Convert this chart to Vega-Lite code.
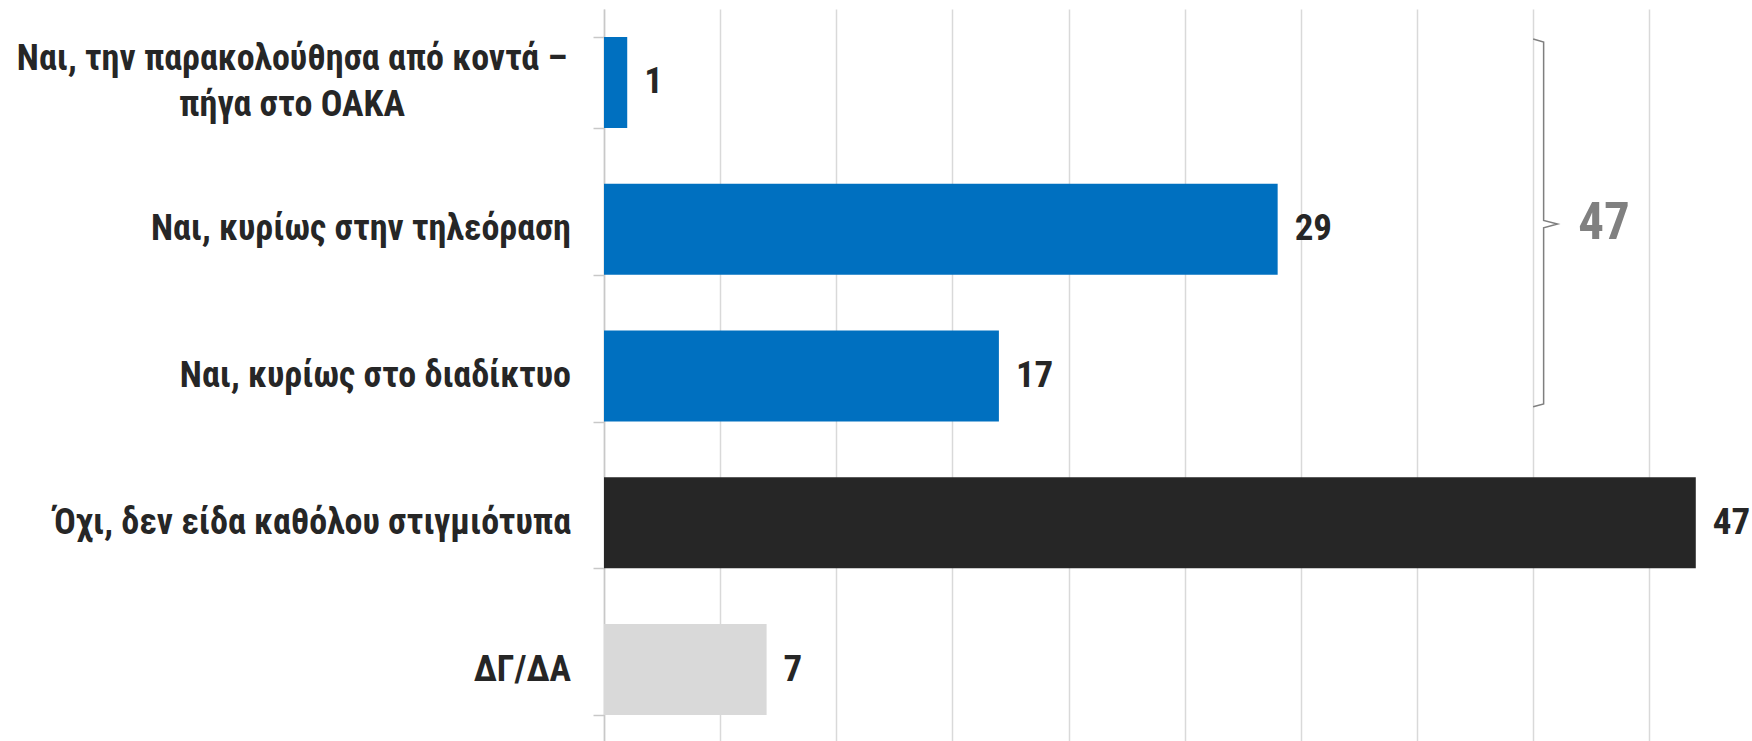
{
  "$schema": "https://vega.github.io/schema/vega-lite/v6.json",
  "width": 1148,
  "height": 734,
  "autosize": {"type": "none"},
  "padding": {"left": 604, "top": 9, "right": 0, "bottom": 0},
  "background": "white",
  "config": {"view": {"stroke": null}, "font": "Roboto Condensed"},
  "datasets": {
    "bars": [
      {"cat": "Ναι, την παρακολούθησα από κοντά –|πήγα στο ΟΑΚΑ", "value": 1, "group": "yes"},
      {"cat": "Ναι, κυρίως στην τηλεόραση", "value": 29, "group": "yes"},
      {"cat": "Ναι, κυρίως στο διαδίκτυο", "value": 17, "group": "yes"},
      {"cat": "Όχι, δεν είδα καθόλου στιγμιότυπα", "value": 47, "group": "no"},
      {"cat": "ΔΓ/ΔΑ", "value": 7, "group": "dk"}
    ],
    "brace": [
      {"x": 40.0, "y": 0.205, "o": 1},
      {"x": 40.45, "y": 0.225, "o": 2},
      {"x": 40.45, "y": 1.44, "o": 3},
      {"x": 41.05, "y": 1.465, "o": 4},
      {"x": 40.45, "y": 1.49, "o": 5},
      {"x": 40.45, "y": 2.69, "o": 6},
      {"x": 40.0, "y": 2.71, "o": 7}
    ],
    "total": [{"x": 43.05, "y": 1.465, "label": "47"}]
  },
  "layer": [
    {
      "data": {"name": "bars"},
      "encoding": {
        "y": {
          "field": "cat",
          "type": "nominal",
          "sort": null,
          "scale": {
            "domain": [
              "Ναι, την παρακολούθησα από κοντά –|πήγα στο ΟΑΚΑ",
              "Ναι, κυρίως στην τηλεόραση",
              "Ναι, κυρίως στο διαδίκτυο",
              "Όχι, δεν είδα καθόλου στιγμιότυπα",
              "ΔΓ/ΔΑ"
            ],
            "paddingInner": 0.38,
            "paddingOuter": 0.19
          },
          "axis": {
            "title": null,
            "tickBand": "extent",
            "tickSize": 11,
            "tickColor": "#C8C8C8",
            "tickWidth": 1.5,
            "domainColor": "#C8C8C8",
            "domainWidth": 1.5,
            "labels": false
          }
        },
        "x": {
          "field": "value",
          "type": "quantitative",
          "scale": {"domain": [0, 49.42], "nice": false},
          "axis": {
            "values": [0, 5, 10, 15, 20, 25, 30, 35, 40, 45],
            "grid": true,
            "gridColor": "#D9D9D9",
            "gridWidth": 1.5,
            "labels": false,
            "ticks": false,
            "domain": false,
            "title": null
          }
        }
      },
      "layer": [
        {
          "mark": {"type": "bar"},
          "encoding": {
            "color": {
              "field": "group",
              "type": "nominal",
              "scale": {"domain": ["yes", "no", "dk"], "range": ["#0070C0", "#262626", "#D9D9D9"]},
              "legend": null
            }
          }
        },
        {
          "mark": {"type": "text", "align": "left", "baseline": "middle", "dx": 17, "font": "Roboto Condensed", "fontSize": 37, "fontWeight": "bold", "color": "#262626"},
          "encoding": {"text": {"field": "value", "type": "quantitative"}}
        },
        {
          "transform": [{"filter": "indexof(datum.cat, '|') < 0"}],
          "mark": {"type": "text", "align": "right", "baseline": "middle", "dx": -33, "font": "Roboto Condensed", "fontSize": 36, "fontWeight": "bold", "color": "#262626"},
          "encoding": {
            "x": {"datum": 0},
            "text": {"field": "cat", "type": "nominal"}
          }
        },
        {
          "transform": [
            {"filter": "indexof(datum.cat, '|') >= 0"},
            {"calculate": "split(datum.cat, '|')", "as": "lines"}
          ],
          "mark": {"type": "text", "align": "center", "baseline": "middle", "dx": -312, "dy": -23, "lineHeight": 46, "font": "Roboto Condensed", "fontSize": 36, "fontWeight": "bold", "color": "#262626"},
          "encoding": {
            "x": {"datum": 0},
            "text": {"field": "lines", "type": "nominal"}
          }
        }
      ]
    },
    {
      "data": {"name": "brace"},
      "mark": {"type": "line", "color": "#7F7F7F", "strokeWidth": 1.5},
      "encoding": {
        "x": {"field": "x", "type": "quantitative"},
        "y": {"field": "y", "type": "quantitative", "scale": {"domain": [0, 5], "reverse": true, "nice": false, "zero": false}, "axis": null},
        "order": {"field": "o", "type": "quantitative"}
      }
    },
    {
      "data": {"name": "total"},
      "mark": {"type": "text", "align": "center", "baseline": "middle", "font": "Roboto Condensed", "fontSize": 51, "fontWeight": "bold", "color": "#808080"},
      "encoding": {
        "x": {"field": "x", "type": "quantitative"},
        "y": {"field": "y", "type": "quantitative", "scale": {"domain": [0, 5], "reverse": true, "nice": false, "zero": false}, "axis": null},
        "text": {"field": "label"}
      }
    }
  ],
  "resolve": {"scale": {"y": "independent"}}
}
